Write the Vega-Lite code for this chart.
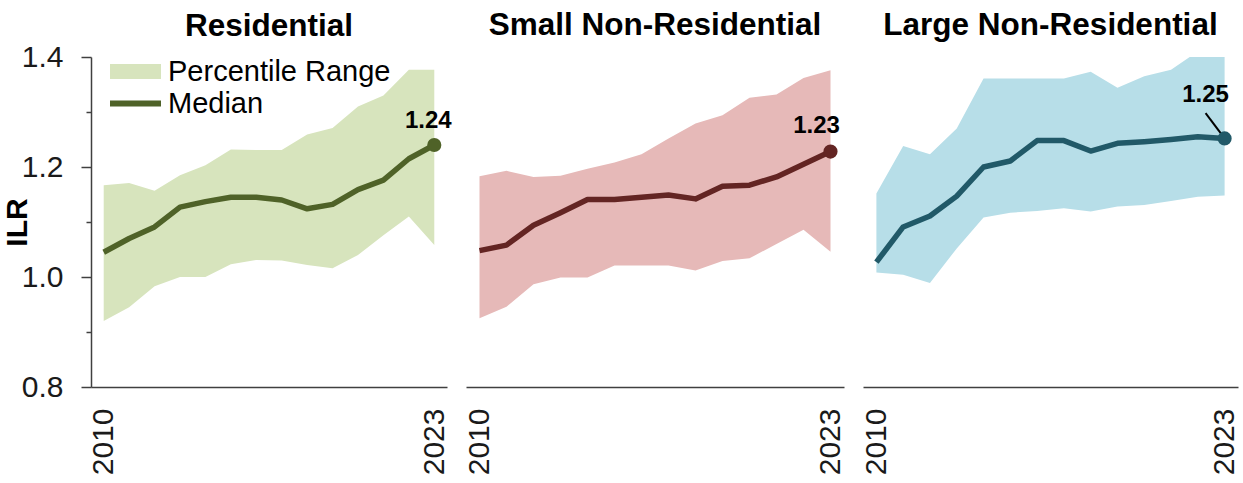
{
  "$schema": "https://vega.github.io/schema/vega-lite/v6.json",
  "padding": {"left": 2, "top": 9, "right": 2, "bottom": 2},
  "config": {
    "view": {"stroke": null},
    "font": "Liberation Sans",
    "axis": {"grid": false, "domainColor": "#404040", "domainWidth": 1.5, "tickColor": "#404040", "tickWidth": 1.5, "labelFont": "Liberation Sans", "labelFontSize": 30, "labelColor": "#1a1a1a"},
    "title": {"fontSize": 31.5, "fontWeight": "bold", "font": "Liberation Sans", "color": "#000000", "baseline": "alphabetic", "offset": 16, "anchor": "middle"}
  },
  "datasets": {
    "res": [
      {"year": 2010, "lo": 0.920, "med": 1.045, "hi": 1.167},
      {"year": 2011, "lo": 0.945, "med": 1.070, "hi": 1.171},
      {"year": 2012, "lo": 0.983, "med": 1.091, "hi": 1.157},
      {"year": 2013, "lo": 1.000, "med": 1.127, "hi": 1.185},
      {"year": 2014, "lo": 1.000, "med": 1.137, "hi": 1.203},
      {"year": 2015, "lo": 1.023, "med": 1.145, "hi": 1.232},
      {"year": 2016, "lo": 1.031, "med": 1.145, "hi": 1.231},
      {"year": 2017, "lo": 1.030, "med": 1.140, "hi": 1.231},
      {"year": 2018, "lo": 1.022, "med": 1.124, "hi": 1.259},
      {"year": 2019, "lo": 1.016, "med": 1.132, "hi": 1.271},
      {"year": 2020, "lo": 1.040, "med": 1.159, "hi": 1.310},
      {"year": 2021, "lo": 1.076, "med": 1.176, "hi": 1.330},
      {"year": 2022, "lo": 1.110, "med": 1.215, "hi": 1.377},
      {"year": 2023, "lo": 1.058, "med": 1.240, "hi": 1.377}
    ],
    "small": [
      {"year": 2010, "lo": 0.925, "med": 1.048, "hi": 1.183},
      {"year": 2011, "lo": 0.946, "med": 1.058, "hi": 1.193},
      {"year": 2012, "lo": 0.987, "med": 1.094, "hi": 1.182},
      {"year": 2013, "lo": 0.999, "med": 1.117, "hi": 1.184},
      {"year": 2014, "lo": 0.999, "med": 1.141, "hi": 1.197},
      {"year": 2015, "lo": 1.021, "med": 1.141, "hi": 1.208},
      {"year": 2016, "lo": 1.021, "med": 1.145, "hi": 1.223},
      {"year": 2017, "lo": 1.021, "med": 1.149, "hi": 1.252},
      {"year": 2018, "lo": 1.012, "med": 1.142, "hi": 1.279},
      {"year": 2019, "lo": 1.029, "med": 1.165, "hi": 1.294},
      {"year": 2020, "lo": 1.034, "med": 1.167, "hi": 1.326},
      {"year": 2021, "lo": 1.060, "med": 1.182, "hi": 1.332},
      {"year": 2022, "lo": 1.086, "med": 1.205, "hi": 1.362},
      {"year": 2023, "lo": 1.046, "med": 1.228, "hi": 1.376}
    ],
    "large": [
      {"year": 2010, "lo": 1.008, "med": 1.027, "hi": 1.152},
      {"year": 2011, "lo": 1.004, "med": 1.091, "hi": 1.238},
      {"year": 2012, "lo": 0.989, "med": 1.111, "hi": 1.223},
      {"year": 2013, "lo": 1.052, "med": 1.147, "hi": 1.270},
      {"year": 2014, "lo": 1.108, "med": 1.200, "hi": 1.361},
      {"year": 2015, "lo": 1.117, "med": 1.211, "hi": 1.361},
      {"year": 2016, "lo": 1.120, "med": 1.248, "hi": 1.361},
      {"year": 2017, "lo": 1.125, "med": 1.248, "hi": 1.361},
      {"year": 2018, "lo": 1.119, "med": 1.229, "hi": 1.373},
      {"year": 2019, "lo": 1.128, "med": 1.243, "hi": 1.344},
      {"year": 2020, "lo": 1.131, "med": 1.246, "hi": 1.365},
      {"year": 2021, "lo": 1.138, "med": 1.250, "hi": 1.377},
      {"year": 2022, "lo": 1.146, "med": 1.255, "hi": 1.410},
      {"year": 2023, "lo": 1.148, "med": 1.252, "hi": 1.410}
    ]
  },
  "bounds": "flush",
  "spacing": 19,
  "resolve": {"scale": {"color": "independent"}},
  "hconcat": [
    {
      "width": 356, "height": 330,
      "title": {"text": "Residential", "offset": 0},
      "data": {"name": "res"},
      "encoding": {
        "x": {"field": "year", "type": "quantitative", "scale": {"domain": [2009.5, 2023.5], "nice": false, "zero": false},
              "axis": {"values": [2010, 2023], "format": "d", "labelAngle": -90, "ticks": false, "title": null, "labelPadding": 21}}
      },
      "layer": [
        {
          "mark": {"type": "area", "clip": true},
          "encoding": {
            "y": {"field": "lo", "type": "quantitative", "scale": {"domain": [0.8, 1.4], "nice": false, "zero": false},
                  "axis": {"values": [0.8, 0.9, 1.0, 1.1, 1.2, 1.3, 1.4],
                           "labelExpr": "round(datum.value*10)%2==0 ? format(datum.value,'.1f') : ''",
                           "tickSize": {"condition": {"test": "round(datum.value*10)%2==0", "value": 10}, "value": 5},
                           "labelPadding": 18, "titleFontSize": 30, "titleFontWeight": "bold", "titleColor": "#000000",
                           "titleX": -74, "titleY": 165, "titleAngle": -90, "titleBaseline": "middle", "titleAlign": "center"},
                  "title": "ILR"},
            "y2": {"field": "hi"},
            "color": {"datum": "Percentile Range", "type": "nominal",
                      "scale": {"domain": ["Percentile Range", "Median"], "range": ["#D7E4BD", "#4F6228"]},
                      "legend": {"orient": "none", "legendX": 30, "legendY": 0, "title": null,
                                 "symbolType": "M-3,-0.87H3V0.87H-3Z", "symbolSize": 289, "symbolStrokeWidth": 0,
                                 "labelFontSize": 29, "labelFont": "Liberation Sans", "labelColor": "#000000", "labelOffset": 18, "labelLimit": 0, "rowPadding": 2, "padding": 0,
                                 "encode": {"symbols": {"update": {
                                   "shape": {"signal": "datum.label === 'Median' ? 'M-3,-0.36H3V0.36H-3Z' : 'M-3,-0.87H3V0.87H-3Z'"},
                                   "fill": {"signal": "datum.label === 'Median' ? '#4F6228' : '#D7E4BD'"},
                                   "strokeWidth": {"value": 0}}}}}}
          }
        },
        {
          "mark": {"type": "line", "strokeWidth": 5.5, "strokeJoin": "round"},
          "encoding": {
            "y": {"field": "med", "type": "quantitative", "title": "ILR"},
            "color": {"datum": "Median", "type": "nominal"}
          }
        },
        {
          "transform": [{"filter": "datum.year == 2023"}],
          "mark": {"type": "point", "filled": true, "size": 200, "opacity": 1, "color": "#4F6228"},
          "encoding": {"y": {"field": "med", "type": "quantitative", "title": "ILR"}}
        },
        {
          "transform": [{"filter": "datum.year == 2023"}],
          "mark": {"type": "text", "fontSize": 24, "fontWeight": "bold", "color": "#000000", "baseline": "alphabetic", "dx": -6, "dy": -17},
          "encoding": {"y": {"field": "med", "type": "quantitative", "title": "ILR"}, "text": {"field": "med", "format": ".2f"}}
        }
      ]
    },
    {
      "width": 378, "height": 330,
      "title": {"text": "Small Non-Residential"},
      "data": {"name": "small"},
      "encoding": {
        "x": {"field": "year", "type": "quantitative", "scale": {"domain": [2009.5, 2023.5], "nice": false, "zero": false},
              "axis": {"values": [2010, 2023], "format": "d", "labelAngle": -90, "ticks": false, "title": null, "labelPadding": 21}}
      },
      "layer": [
        {
          "mark": {"type": "area", "clip": true, "color": "#E6B9B8"},
          "encoding": {
            "y": {"field": "lo", "type": "quantitative", "scale": {"domain": [0.8, 1.4], "nice": false, "zero": false}, "axis": null},
            "y2": {"field": "hi"}
          }
        },
        {
          "mark": {"type": "line", "strokeWidth": 5.5, "strokeJoin": "round", "color": "#632523"},
          "encoding": {"y": {"field": "med", "type": "quantitative", "axis": null}}
        },
        {
          "transform": [{"filter": "datum.year == 2023"}],
          "mark": {"type": "point", "filled": true, "size": 200, "opacity": 1, "color": "#632523"},
          "encoding": {"y": {"field": "med", "type": "quantitative", "axis": null}}
        },
        {
          "transform": [{"filter": "datum.year == 2023"}],
          "mark": {"type": "text", "fontSize": 24, "fontWeight": "bold", "color": "#000000", "baseline": "alphabetic", "dx": -14, "dy": -19},
          "encoding": {"y": {"field": "med", "type": "quantitative", "axis": null}, "text": {"field": "med", "format": ".2f"}}
        }
      ]
    },
    {
      "width": 375, "height": 330,
      "title": {"text": "Large Non-Residential"},
      "data": {"name": "large"},
      "encoding": {
        "x": {"field": "year", "type": "quantitative", "scale": {"domain": [2009.5, 2023.5], "nice": false, "zero": false},
              "axis": {"values": [2010, 2023], "format": "d", "labelAngle": -90, "ticks": false, "title": null, "labelPadding": 21}}
      },
      "layer": [
        {
          "mark": {"type": "area", "clip": true, "color": "#B7DEE8"},
          "encoding": {
            "y": {"field": "lo", "type": "quantitative", "scale": {"domain": [0.8, 1.4], "nice": false, "zero": false}, "axis": null},
            "y2": {"field": "hi"}
          }
        },
        {
          "mark": {"type": "line", "strokeWidth": 5.5, "strokeJoin": "round", "color": "#215968"},
          "encoding": {"y": {"field": "med", "type": "quantitative", "axis": null}}
        },
        {
          "transform": [{"filter": "datum.year == 2023"}],
          "mark": {"type": "rule", "strokeWidth": 2, "color": "#000000"},
          "encoding": {
            "y": {"field": "med", "type": "quantitative", "axis": null},
            "x2": {"datum": 2022.29},
            "y2": {"datum": 1.298}
          }
        },
        {
          "transform": [{"filter": "datum.year == 2023"}],
          "mark": {"type": "point", "filled": true, "size": 200, "opacity": 1, "color": "#215968"},
          "encoding": {"y": {"field": "med", "type": "quantitative", "axis": null}}
        },
        {
          "transform": [{"filter": "datum.year == 2023"}],
          "mark": {"type": "text", "fontSize": 24, "fontWeight": "bold", "color": "#000000", "baseline": "alphabetic", "dx": -19, "dy": -36},
          "encoding": {"y": {"field": "med", "type": "quantitative", "axis": null}, "text": {"field": "med", "format": ".2f"}}
        }
      ]
    }
  ]
}
